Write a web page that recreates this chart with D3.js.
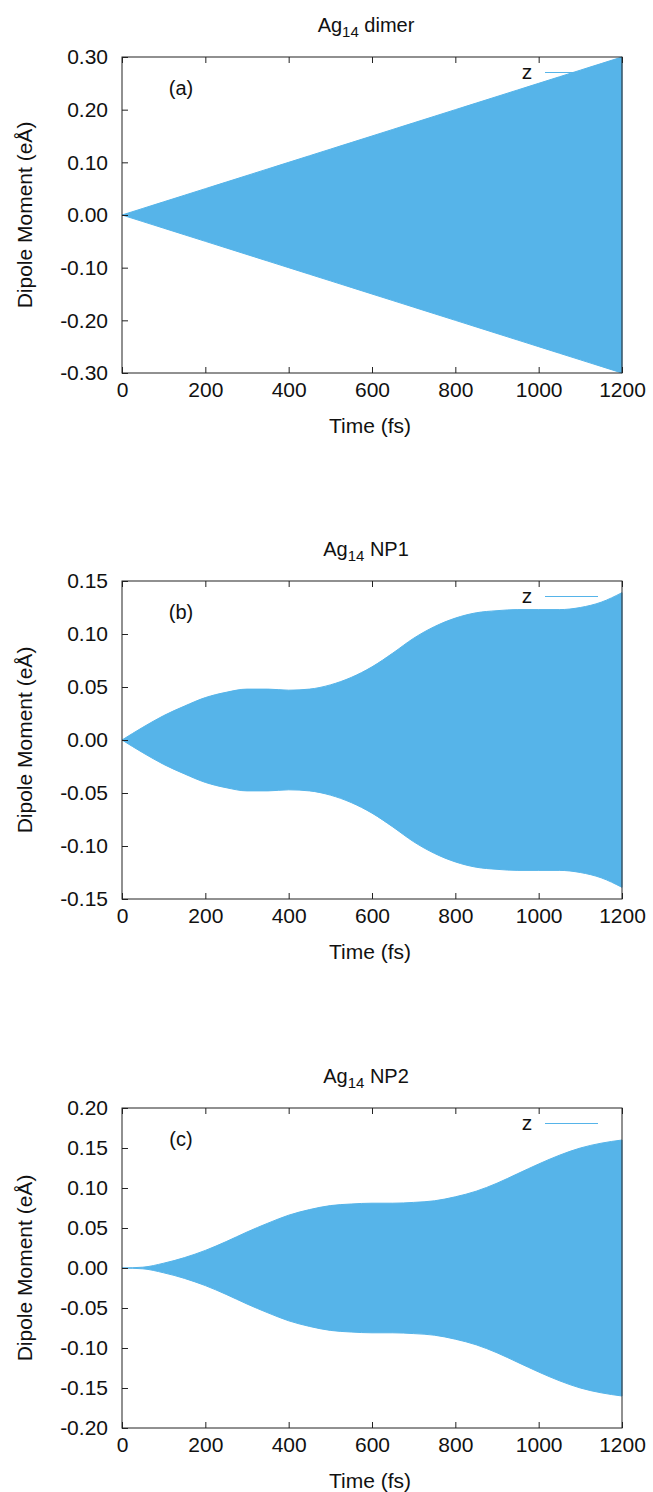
<!DOCTYPE html>
<html>
<head>
<meta charset="utf-8">
<script src="https://d3js.org/d3.v7.min.js"></script>
<style>
  body { margin: 0; background: #fff; }
  text { font-family: "Liberation Sans", Arial, sans-serif; fill: #111; }
</style>
</head>
<body>
<div id="chart"></div>
<script>
var timeFs = [0, 50, 100, 150, 200, 250, 300, 350, 400, 450, 500, 550, 600,
              650, 700, 750, 800, 850, 900, 950, 1000, 1050, 1100, 1150, 1200];

// envelope amplitude of the z dipole (eÅ); curve is filled between +amp and -amp
var ampDimer = [0, 0.0125, 0.025, 0.0375, 0.05, 0.0625, 0.075, 0.0875, 0.1, 0.1125, 0.125, 0.1375, 0.15,
                0.1625, 0.175, 0.1875, 0.2, 0.2125, 0.225, 0.2375, 0.25, 0.2625, 0.275, 0.2875, 0.30];
var ampNP1 = [0, 0.012, 0.023, 0.032, 0.040, 0.045, 0.048, 0.048, 0.047, 0.048, 0.052, 0.059, 0.069,
              0.082, 0.096, 0.107, 0.115, 0.120, 0.122, 0.123, 0.123, 0.123, 0.125, 0.130, 0.139];
var ampNP2 = [0, 0.001, 0.006, 0.013, 0.022, 0.033, 0.045, 0.056, 0.066, 0.073, 0.078, 0.080, 0.081,
              0.081, 0.082, 0.084, 0.089, 0.096, 0.106, 0.118, 0.130, 0.141, 0.150, 0.156, 0.160];

var xTicks = [0, 200, 400, 600, 800, 1000, 1200];
var yTicksA = [-0.30, -0.20, -0.10, 0.00, 0.10, 0.20, 0.30];
var yTicksB = [-0.15, -0.10, -0.05, 0.00, 0.05, 0.10, 0.15];
var yTicksC = [-0.20, -0.15, -0.10, -0.05, 0.00, 0.05, 0.10, 0.15, 0.20];

var panelNames = ["dimer", "NP1", "NP2"];
var panelTags = ["(a)", "(b)", "(c)"];

var width = 653, height = 1492;
var blue = "#56b4e9";
var fs = "21px";

var panels = [
  { name: panelNames[0], tag: panelTags[0], amp: ampDimer, ticks: yTicksA, top: 57, bottom: 373 },
  { name: panelNames[1], tag: panelTags[1], amp: ampNP1, ticks: yTicksB, top: 581, bottom: 899 },
  { name: panelNames[2], tag: panelTags[2], amp: ampNP2, ticks: yTicksC, top: 1108, bottom: 1428 }
];

var left = 122, right = 622;

var svg = d3.select("#chart").append("svg")
  .attr("width", width)
  .attr("height", height);

panels.forEach(function(p) {
  var x = d3.scaleLinear().domain([0, 1200]).range([left, right]);
  var y = d3.scaleLinear().domain([p.ticks[0], p.ticks[p.ticks.length - 1]]).range([p.bottom, p.top]);
  var g = svg.append("g");

  // key sample goes first, the data covers it where they overlap
  g.append("text")
    .attr("x", 527).attr("y", p.top + 22)
    .attr("text-anchor", "middle")
    .style("font-size", fs)
    .text("z");
  g.append("line")
    .attr("x1", 545).attr("x2", 598)
    .attr("y1", p.top + 15.5).attr("y2", p.top + 15.5)
    .attr("stroke", blue).attr("stroke-width", 1.2);

  var pts = timeFs.map(function(t, i) { return { t: t, a: p.amp[i] }; });
  var area = d3.area()
    .x(function(d) { return x(d.t); })
    .y0(function(d) { return y(-d.a); })
    .y1(function(d) { return y(d.a); })
    .curve(d3.curveMonotoneX);
  g.append("path")
    .datum(pts)
    .attr("d", area)
    .attr("fill", blue)
    .attr("stroke", blue)
    .attr("stroke-width", 1);

  // ticks point inward, mirrored on top
  var xb = d3.axisBottom(x).tickValues(xTicks).tickFormat(d3.format("d"))
    .tickSizeInner(-6).tickSizeOuter(0).tickPadding(9);
  var yl = d3.axisLeft(y).tickValues(p.ticks).tickFormat(function(d) { return d3.format(".2f")(d).replace("−", "-"); })
    .tickSizeInner(-6).tickSizeOuter(0).tickPadding(14);
  var xt = d3.axisTop(x).tickValues(xTicks).tickSizeInner(-6).tickSizeOuter(0).tickFormat("");

  var gx = g.append("g").attr("transform", "translate(0," + p.bottom + ")").call(xb);
  var gy = g.append("g").attr("transform", "translate(" + left + ",0)").call(yl);
  var gt = g.append("g").attr("transform", "translate(0," + p.top + ")").call(xt);
  [gx, gy, gt].forEach(function(a) {
    a.select(".domain").remove();
    a.selectAll("line").attr("stroke", "#222");
    a.selectAll("text").style("font-size", fs).attr("fill", "#111")
      .style("font-family", "'Liberation Sans', Arial, sans-serif");
  });

  g.append("rect")
    .attr("x", left).attr("y", p.top)
    .attr("width", right - left).attr("height", p.bottom - p.top)
    .attr("fill", "none").attr("stroke", "#222").attr("stroke-width", 1);

  // title with subscript
  var title = g.append("text")
    .attr("x", (left + right) / 2 - 6).attr("y", p.top - 25)
    .attr("text-anchor", "middle")
    .style("font-size", "20px");
  title.append("tspan").text("Ag");
  title.append("tspan").attr("dy", 5).style("font-size", "15px").text("14");
  title.append("tspan").attr("dy", -5).text(" " + p.name);

  g.append("text")
    .attr("x", 181).attr("y", p.top + 38)
    .attr("text-anchor", "middle")
    .style("font-size", "20px")
    .text(p.tag);

  g.append("text")
    .attr("x", (left + right) / 2 - 2).attr("y", p.bottom + 60)
    .attr("text-anchor", "middle")
    .style("font-size", fs)
    .text("Time (fs)");

  g.append("text")
    .attr("transform", "translate(32," + ((p.top + p.bottom) / 2) + ") rotate(-90)")
    .attr("text-anchor", "middle")
    .style("font-size", fs)
    .text("Dipole Moment (eÅ)");
});
</script>
</body>
</html>
